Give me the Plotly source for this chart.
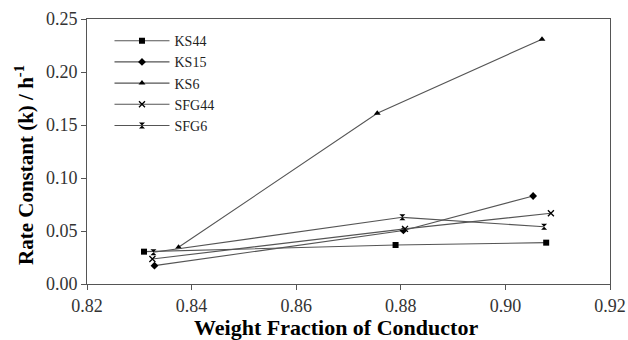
import plotly.graph_objects as go

series_names = ["KS44", "KS15", "KS6", "SFG44", "SFG6"]
ks44_x = [0.8309, 0.8790, 0.9078]
ks44_y = [0.0305, 0.0368, 0.0390]
ks15_x = [0.8329, 0.8805, 0.9053]
ks15_y = [0.0173, 0.0505, 0.0830]
ks6_x = [0.8375, 0.8755, 0.9070]
ks6_y = [0.0346, 0.1610, 0.2310]
sfg44_x = [0.8325, 0.8808, 0.9087]
sfg44_y = [0.0236, 0.0520, 0.0667]
sfg6_x = [0.8327, 0.8803, 0.9074]
sfg6_y = [0.0299, 0.0629, 0.0540]
x_title = "<b>Weight Fraction of Conductor</b>"
y_title = "<b>Rate Constant (k) / h<sup>-1</sup></b>"

xs = [ks44_x, ks15_x, ks6_x, sfg44_x, sfg6_x]
ys = [ks44_y, ks15_y, ks6_y, sfg44_y, sfg6_y]
symbols = ["square", "diamond", "triangle-up", "x-thin-open", "hourglass"]
sizes = [6, 6, 6, 6, 6]

serif = "Liberation Serif, Times New Roman, serif"
fig = go.Figure()
for name, x, y, sym, sz in zip(series_names, xs, ys, symbols, sizes):
    fig.add_trace(go.Scatter(
        x=x, y=y, name=name, mode="lines+markers",
        line=dict(color="#555555", width=1.1),
        marker=dict(symbol=sym, size=sz, color="black",
                    line=dict(color="black", width=1.3 if "x" in sym else 0)),
    ))

fig.update_layout(
    width=628, height=340,
    margin=dict(l=87, r=18, t=19, b=56),
    paper_bgcolor="white", plot_bgcolor="white",
    font=dict(family=serif, color="black", size=17),
    legend=dict(x=0.043, y=0.977, xanchor="left", yanchor="top",
                font=dict(family=serif, size=14, color="#222"),
                bgcolor="rgba(0,0,0,0)", itemwidth=55),
    xaxis=dict(range=[0.82, 0.92], dtick=0.02, tickformat=".2f", automargin=False,
               showgrid=False, zeroline=False, showline=True, linecolor="#555",
               linewidth=1, mirror=True, ticks="outside", ticklen=5,
               tickcolor="#555", tickfont=dict(size=18, family=serif, color="#333")),
    yaxis=dict(range=[0, 0.25], dtick=0.05, tickformat=".2f", automargin=False,
               showgrid=False, zeroline=False, showline=True, linecolor="#555",
               linewidth=1, mirror=True, ticks="outside", ticklen=5,
               tickcolor="#555", tickfont=dict(size=18, family=serif, color="#333")),
    annotations=[
        dict(text=x_title, xref="paper", yref="paper", x=0.476, y=-0.166,
             xanchor="center", yanchor="middle", showarrow=False,
             font=dict(size=22, family=serif, color="black")),
        dict(text=y_title, xref="paper", yref="paper", x=-0.1205, y=0.449,
             xanchor="center", yanchor="middle", textangle=-90, showarrow=False,
             font=dict(size=21, family=serif, color="black")),
    ],
)
fig.write_html("out.html")
